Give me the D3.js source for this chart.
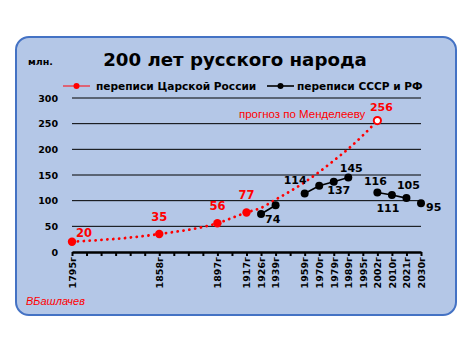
<!DOCTYPE html>
<html>
<head>
<meta charset="utf-8">
<script src="https://cdn.jsdelivr.net/npm/d3@7"></script>
<style>
  html, body { margin: 0; padding: 0; background: #fff; }
  svg { display: block; font-family: "DejaVu Sans", Verdana, sans-serif; }
  .plain { font-family: "Liberation Sans", Arial, sans-serif; }
</style>
</head>
<body>
<div id="chart"></div>
<script>
// categories on the x axis (empty = tick without label)
var categories = ["1795г", "", "", "", "", "", "1858г", "", "", "", "1897г", "", "1917г", "1926г", "1939г", "",
  "1959г", "1970г", "1979г", "1989г", "1995г", "2002г", "2010г", "2021г", "2030г"];
var yTicks = [0, 50, 100, 150, 200, 250, 300];

// переписи Царской России
var tsarYears = ["1795г", "1858г", "1897г", "1917г"];
var tsarValues = [20, 35, 56, 77];

// прогноз по Менделееву (continues the red line)
var forecastYears = ["1926г", "1939г", "1959г", "1970г", "1979г", "1989г", "1995г", "2002г"];
var forecastValues = [86, 102, 136, 156, 178, 201, 227, 256];

// переписи СССР и РФ, null = break in the line
var ussrYears = ["1926г", "1939г", "1959г", "1970г", "1979г", "1989г", "1995г", "2002г", "2010г", "2021г", "2030г"];
var ussrValues = [74, 91, 114, 129, 137, 145, null, 116, 111, 105, 95];
var ussrBreakAfter = ["1939г", "2021г"];
var ussrLabels = ["74", "", "114", "", "137", "145", "", "116", "111", "105", "95"];

(function () {
  'use strict';

  const WIDTH = 473;
  const HEIGHT = 351;
  const RED = '#ff0000';
  const CARD_FILL = '#b4c7e7';
  const CARD_STROKE = '#4472c4';
  const margin = { top: 98, right: 52, bottom: 99, left: 72 };

  var svg = d3.select('#chart').append('svg')
    .attr('width', WIDTH)
    .attr('height', HEIGHT);

  var plotW = WIDTH - margin.left - margin.right;
  var plotH = HEIGHT - margin.top - margin.bottom;

  var x = d3.scalePoint()
    .domain(d3.range(categories.length))
    .range([0, plotW]);
  var y = d3.scaleLinear()
    .domain([0, 300])
    .range([plotH, 0]);

  function xc(year) { return x(categories.indexOf(year)); }

  _drawCard();
  _drawTitle();
  var g = svg.append('g')
    .attr('transform', 'translate(' + margin.left + ',' + margin.top + ')');
  _drawAxes();
  _drawRed();
  _drawBlack();
  _drawLegend();

  function _drawCard() {
    svg.append('rect')
      .attr('x', 16).attr('y', 37)
      .attr('width', 440).attr('height', 278)
      .attr('rx', 13)
      .attr('fill', CARD_FILL)
      .attr('stroke', CARD_STROKE)
      .attr('stroke-width', 2);

    svg.append('text')
      .attr('class', 'plain')
      .attr('x', 26).attr('y', 305)
      .attr('fill', RED)
      .style('font-size', '11px')
      .style('font-style', 'italic')
      .text('ВБашлачев');
  }

  function _drawTitle() {
    svg.append('text')
      .attr('x', 235).attr('y', 66)
      .attr('text-anchor', 'middle')
      .style('font-size', '18.2px')
      .style('font-weight', 'bold')
      .text('200 лет русского народа');

    svg.append('text')
      .attr('x', 28).attr('y', 65)
      .style('font-size', '9.5px')
      .style('font-weight', 'bold')
      .text('млн.');
  }

  function _drawAxes() {
    g.selectAll('.grid')
      .data(yTicks.filter(function (d) { return d > 0; }))
      .enter().append('line')
      .attr('x1', 0).attr('x2', plotW)
      .attr('y1', function (d) { return y(d); })
      .attr('y2', function (d) { return y(d); })
      .attr('stroke', '#000')
      .attr('stroke-width', 1);

    var yAxis = g.append('g')
      .call(d3.axisLeft(y).tickValues(yTicks).tickSize(0).tickPadding(14));
    yAxis.select('.domain').remove();
    yAxis.selectAll('text')
      .style('font-family', '"DejaVu Sans", Verdana, sans-serif')
      .style('font-size', '9.5px')
      .style('font-weight', 'bold')
      .attr('fill', '#000');

    var xAxis = g.append('g')
      .attr('transform', 'translate(0,' + plotH + ')')
      .call(d3.axisBottom(x)
        .tickSize(4)
        .tickSizeOuter(0)
        .tickFormat(function (i) { return categories[i]; }));
    xAxis.select('.domain').attr('stroke-width', 2.5);
    xAxis.selectAll('.tick line').attr('stroke-width', 2);
    xAxis.selectAll('text')
      .attr('transform', 'rotate(-90)')
      .attr('x', -5).attr('y', 0).attr('dy', '0.35em')
      .attr('text-anchor', 'end')
      .attr('fill', '#000')
      .style('font-family', '"DejaVu Sans", Verdana, sans-serif')
      .style('font-size', '9.5px')
      .style('font-weight', 'bold');
  }

  function _drawRed() {
    var pts = tsarYears.map(function (d, i) { return [xc(d), y(tsarValues[i])]; })
      .concat(forecastYears.map(function (d, i) { return [xc(d), y(forecastValues[i])]; }));

    g.append('path')
      .attr('d', d3.line().curve(d3.curveMonotoneX)(pts))
      .attr('fill', 'none')
      .attr('stroke', RED)
      .attr('stroke-width', 2.8)
      .attr('stroke-linecap', 'round')
      .attr('stroke-dasharray', '0.1 5.8');

    g.selectAll('.tsar')
      .data(tsarValues)
      .enter().append('circle')
      .attr('cx', function (d, i) { return xc(tsarYears[i]); })
      .attr('cy', function (d) { return y(d); })
      .attr('r', 4.2)
      .attr('fill', RED);

    var last = forecastValues.length - 1;
    g.append('circle')
      .attr('cx', xc(forecastYears[last]))
      .attr('cy', y(forecastValues[last]))
      .attr('r', 3.6)
      .attr('fill', '#fff')
      .attr('stroke', RED)
      .attr('stroke-width', 2);

    // data labels: first one to the right, the rest above
    g.selectAll('.tsar-label')
      .data(tsarValues)
      .enter().append('text')
      .attr('x', function (d, i) { return xc(tsarYears[i]) + (i === 0 ? 4 : 0); })
      .attr('y', function (d, i) { return y(d) - (i === 0 ? 5 : 13); })
      .attr('text-anchor', function (d, i) { return i === 0 ? 'start' : 'middle'; })
      .attr('fill', RED)
      .style('font-size', '11.5px')
      .style('font-weight', 'bold')
      .text(function (d) { return d; });

    g.append('text')
      .attr('x', xc(forecastYears[last]) + 4)
      .attr('y', y(forecastValues[last]) - 10)
      .attr('text-anchor', 'middle')
      .attr('fill', RED)
      .style('font-size', '11px')
      .style('font-weight', 'bold')
      .text(forecastValues[last]);

    g.append('text')
      .attr('class', 'plain')
      .attr('x', xc(forecastYears[last]) - 12)
      .attr('y', y(forecastValues[last]) - 3)
      .attr('text-anchor', 'end')
      .attr('fill', RED)
      .style('font-size', '11.5px')
      .text('прогноз по Менделееву');
  }

  function _drawBlack() {
    var pts = ussrYears.map(function (d, i) {
      return { x: xc(d), v: ussrValues[i], year: d, label: ussrLabels[i] };
    });
    var lineData = [];
    pts.forEach(function (p) {
      lineData.push(p);
      if (ussrBreakAfter.indexOf(p.year) >= 0) lineData.push({ x: p.x, v: null });
    });

    g.append('path')
      .attr('d', d3.line()
        .defined(function (d) { return d.v !== null; })
        .x(function (d) { return d.x; })
        .y(function (d) { return y(d.v); })(lineData))
      .attr('fill', 'none')
      .attr('stroke', '#000')
      .attr('stroke-width', 1.6);

    var valid = pts.filter(function (d) { return d.v !== null; });
    g.selectAll('.ussr')
      .data(valid)
      .enter().append('circle')
      .attr('cx', function (d) { return d.x; })
      .attr('cy', function (d) { return y(d.v); })
      .attr('r', 4)
      .attr('fill', '#000');

    // label placement per point: [dx, dy, anchor]
    var place = {
      '74': [4, 9, 'start'],
      '114': [2, -9, 'end'],
      '137': [5, 12, 'middle'],
      '145': [3, -6, 'middle'],
      '116': [-2, -7, 'middle'],
      '111': [-4, 17, 'middle'],
      '105': [2, -9, 'middle'],
      '95': [5, 7.5, 'start']
    };
    g.selectAll('.ussr-label')
      .data(valid.filter(function (d) { return d.label !== ''; }))
      .enter().append('text')
      .attr('x', function (d) { return d.x + place[d.label][0]; })
      .attr('y', function (d) { return y(d.v) + place[d.label][1]; })
      .attr('text-anchor', function (d) { return place[d.label][2]; })
      .attr('fill', '#000')
      .style('font-size', '11px')
      .style('font-weight', 'bold')
      .text(function (d) { return d.label; });
  }

  function _drawLegend() {
    var items = [
      { x: 63, color: '#e84a5a', text: 'переписи Царской России' },
      { x: 267, color: '#000', text: 'переписи СССР и РФ' }
    ];
    var lg = svg.selectAll('.legend')
      .data(items)
      .enter().append('g')
      .attr('transform', function (d) { return 'translate(' + d.x + ',86)'; });
    lg.append('line')
      .attr('x1', 0).attr('x2', 27)
      .attr('stroke', function (d) { return d.color; })
      .attr('stroke-width', 1.6);
    lg.append('circle')
      .attr('cx', 13.5).attr('r', 3)
      .attr('fill', function (d) { return d.color === '#000' ? '#000' : RED; });
    lg.append('text')
      .attr('x', function (d, i) { return i === 0 ? 33 : 30; })
      .attr('y', 4)
      .style('font-size', '10.6px')
      .style('font-weight', 'bold')
      .text(function (d) { return d.text; });
  }
}());
</script>
</body>
</html>
